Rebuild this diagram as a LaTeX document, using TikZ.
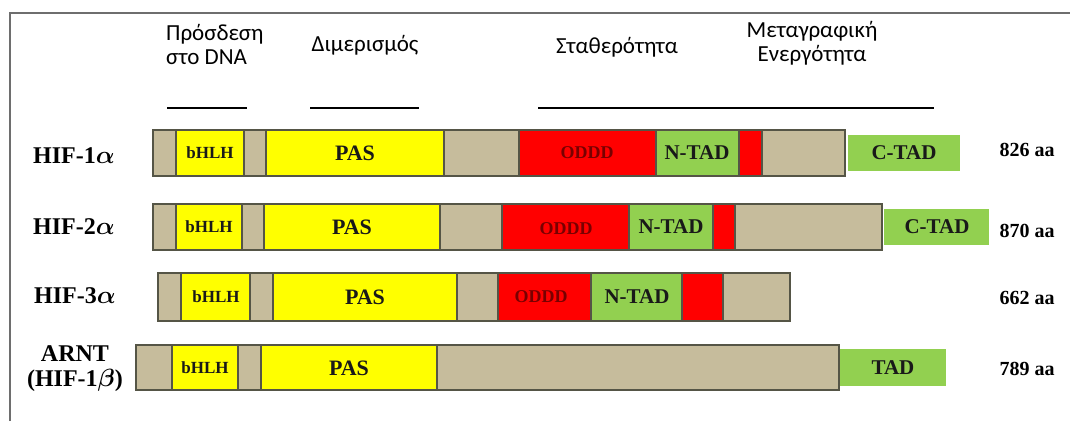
\documentclass[tikz,border=0pt]{standalone}
\usepackage{fontspec}
\setmainfont{Liberation Serif}
\newfontfamily\grfont{Carlito}
\usetikzlibrary{positioning}

\definecolor{tanbar}{RGB}{198,188,156}
\definecolor{yelbar}{RGB}{255,255,0}
\definecolor{redbar}{RGB}{255,0,0}
\definecolor{grnbar}{RGB}{146,208,80}
\definecolor{barline}{RGB}{85,85,70}
\definecolor{odddtext}{RGB}{120,0,0}
\definecolor{framegray}{RGB}{110,110,110}

\begin{document}
\begin{tikzpicture}[
    x=1pt, y=-1pt,
    dom/.style={draw=barline, line width=1.3pt},
    tad/.style={fill=grnbar},
    head/.style={font=\grfont\fontsize{23}{24}\selectfont, inner sep=0pt},
    hrule/.style={line width=1.6pt},
    rowname/.style={font=\bfseries\boldmath\fontsize{24}{25}\selectfont, align=center, inner sep=0pt},
    big/.style={font=\bfseries\fontsize{22}{24}\selectfont, text=black!90, inner sep=0pt},
    mid/.style={font=\bfseries\fontsize{21}{23}\selectfont, text=black!90, inner sep=0pt},
    small/.style={font=\bfseries\fontsize{17}{19}\selectfont, text=black!90, inner sep=0pt},
    oddd/.style={font=\bfseries\fontsize{18}{20}\selectfont, text=odddtext, inner sep=0pt},
    len/.style={font=\bfseries\fontsize{20}{22}\selectfont, inner sep=0pt}
]
\useasboundingbox (0,0) rectangle (1070,421);
\fill[white] (0,0) rectangle (1070,421);
\draw[framegray, line width=2.6pt] (10,421) -- (10,13) -- (1070,13);

% Headings
\node[head, anchor=west, align=left] (dna) at (166,44) {Πρόσδεση\\στο DNA};
\node[head] (dimer) at (365,45) {Διμερισμός};
\node[head] (stab) at (617,47) {Σταθερότητα};
\node[head, align=center] (trans) at (812,43) {Μεταγραφική\\Ενεργότητα};
\draw[hrule] (167,108) -- (247,108);
\draw[hrule] (310,108) -- (419,108);
\draw[hrule] (538,108) -- (934,108);

% HIF-1a
\node[rowname] (hif1) at (74,156) {HIF-1$\alpha$};
\fill[tad] (848,135) rectangle (960,171);
\filldraw[dom, fill=tanbar] (153,130) rectangle (845,176);
\filldraw[dom, fill=yelbar] (176,130) rectangle (244,176);
\filldraw[dom, fill=yelbar] (266,130) rectangle (444,176);
\filldraw[dom, fill=redbar] (519,130) rectangle (762,176);
\filldraw[dom, fill=grnbar] (656,130) rectangle (739,176);
\node[small] (bhlh1) at (210,153) {bHLH};
\node[big] (pas1) at (355,153) {PAS};
\node[oddd] (oddd1) at (587,153) {ODDD};
\node[mid] (ntad1) at (697,153) {N-TAD};
\node[mid] (ctad1) at (904,153) {C-TAD};
\node[len] (aa1) at (1027,150) {826 aa};

% HIF-2a
\node[rowname] (hif2) at (74,227) {HIF-2$\alpha$};
\fill[tad] (884,209) rectangle (989,245);
\filldraw[dom, fill=tanbar] (153,204) rectangle (882,250);
\filldraw[dom, fill=yelbar] (176,204) rectangle (242,250);
\filldraw[dom, fill=yelbar] (264,204) rectangle (440,250);
\filldraw[dom, fill=redbar] (502,204) rectangle (735,250);
\filldraw[dom, fill=grnbar] (629,204) rectangle (713,250);
\node[small] (bhlh2) at (209,227) {bHLH};
\node[big] (pas2) at (352,227) {PAS};
\node[oddd] (oddd2) at (566,229) {ODDD};
\node[mid] (ntad2) at (671,227) {N-TAD};
\node[mid] (ctad2) at (937,227) {C-TAD};
\node[len] (aa2) at (1027,231) {870 aa};

% HIF-3a
\node[rowname] (hif3) at (75,296) {HIF-3$\alpha$};
\filldraw[dom, fill=tanbar] (158,273) rectangle (790,321);
\filldraw[dom, fill=yelbar] (181,273) rectangle (250,321);
\filldraw[dom, fill=yelbar] (273,273) rectangle (457,321);
\filldraw[dom, fill=redbar] (498,273) rectangle (723,321);
\filldraw[dom, fill=grnbar] (591,273) rectangle (682,321);
\node[small] (bhlh3) at (216,297) {bHLH};
\node[big] (pas3) at (365,297) {PAS};
\node[oddd] (oddd3) at (541,297) {ODDD};
\node[mid] (ntad3) at (637,297) {N-TAD};
\node[len] (aa3) at (1027,298) {662 aa};

% ARNT
\node[rowname] (arnt) at (75,369) {ARNT\\(HIF-1$\beta$)};
\fill[tad] (840,349) rectangle (946,386);
\filldraw[dom, fill=tanbar] (136,345) rectangle (839,390);
\filldraw[dom, fill=yelbar] (172,345) rectangle (238,390);
\filldraw[dom, fill=yelbar] (261,345) rectangle (437,390);
\node[small] (bhlh4) at (205,368) {bHLH};
\node[big] (pas4) at (349,368) {PAS};
\node[mid] (tad4) at (893,368) {TAD};
\node[len] (aa4) at (1027,369) {789 aa};

\end{tikzpicture}
\end{document}
